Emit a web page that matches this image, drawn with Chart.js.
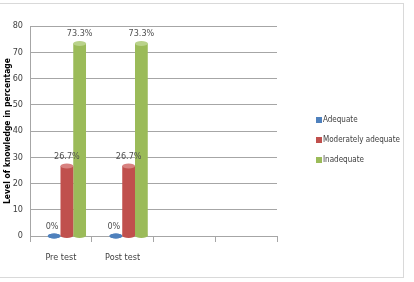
<!DOCTYPE html>
<html>
<head>
<meta charset="utf-8">
<script src="https://cdn.jsdelivr.net/npm/chart.js@4"></script>
<style>
  html, body { margin: 0; padding: 0; background: #fff; }
  #wrap { width: 414px; height: 282px; position: relative; }
</style>
</head>
<body>
<div id="wrap"><canvas id="knowledgeChart"></canvas></div>
<script>
// Knowledge level, pre test vs post test
const categories = ['Pre test', 'Post test', '', ''];
const adequate = [0, 0, null, null];
const moderatelyAdequate = [26.7, 26.7, null, null];
const inadequate = [73.3, 73.3, null, null];
const seriesNames = ['Adequate', 'Moderately adequate', 'Inadequate'];
const seriesColors = ['#4F81BD', '#C0504D', '#9BBB59'];
const capColors = ['#7FA3D0', '#D88280', '#B9D28A'];

const fontFamily = "'DejaVu Sans Condensed', 'Liberation Sans Narrow', 'Noto Sans', sans-serif";

// bars sit a bit to the right of their category, like the 3d original
const shiftPlugin = {
    id: 'shift',
    afterLayout(chart) {
        const s = chart.scales.xb;
        s.left += 6;
        s.right += 6;
        s.configure();
    }
};

// caps, value labels, frame and legend
const extrasPlugin = {
    id: 'extras',
    afterDatasetsDraw(chart) {
        const ctx = chart.ctx;
        ctx.save();
        chart.data.datasets.forEach(function(ds, i) {
            const meta = chart.getDatasetMeta(i);
            meta.data.forEach(function(bar, j) {
                const v = ds.data[j];
                if (v === null || v === undefined) return;
                const rx = bar.width / 2;
                ctx.fillStyle = seriesColors[i];
                ctx.beginPath();
                ctx.ellipse(bar.x, bar.base, rx, 2.5, 0, 0, Math.PI * 2);
                ctx.fill();
                ctx.fillStyle = v === 0 ? seriesColors[i] : capColors[i];
                ctx.beginPath();
                ctx.ellipse(bar.x, bar.y, rx, 2.5, 0, 0, Math.PI * 2);
                ctx.fill();
            });
        });
        ctx.font = '9px ' + fontFamily;
        ctx.fillStyle = '#505050';
        ctx.textAlign = 'center';
        ctx.textBaseline = 'bottom';
        chart.data.datasets.forEach(function(ds, i) {
            const meta = chart.getDatasetMeta(i);
            meta.data.forEach(function(bar, j) {
                const v = ds.data[j];
                if (v === null || v === undefined) return;
                ctx.fillText(v + '%', bar.x - (v === 0 ? 2 : 0), bar.y - 5);
            });
        });
        ctx.restore();
    },
    afterDraw(chart) {
        const ctx = chart.ctx;
        ctx.save();
        ctx.strokeStyle = '#d9d9d9';
        ctx.lineWidth = 1;
        ctx.strokeRect(-1, 3.5, 404.5, 274);
        ctx.font = '8px ' + fontFamily;
        ctx.textBaseline = 'middle';
        ctx.textAlign = 'left';
        chart.data.datasets.forEach(function(ds, i) {
            const y = 120 + i * 20;
            ctx.fillStyle = ds.backgroundColor;
            ctx.fillRect(316, y - 3, 6, 6);
            ctx.fillStyle = '#404040';
            ctx.fillText(ds.label, 323, y);
        });
        ctx.restore();
    }
};

const ctx = document.getElementById('knowledgeChart').getContext('2d');
new Chart(ctx, {
    type: 'bar',
    data: {
        labels: categories,
        datasets: [
            { label: seriesNames[0], data: adequate, backgroundColor: seriesColors[0], xAxisID: 'xb' },
            { label: seriesNames[1], data: moderatelyAdequate, backgroundColor: seriesColors[1], xAxisID: 'xb' },
            { label: seriesNames[2], data: inadequate, backgroundColor: seriesColors[2], xAxisID: 'xb' }
        ]
    },
    options: {
        responsive: true,
        maintainAspectRatio: false,
        animation: false,
        layout: { padding: { top: 26, right: 137, bottom: 8, left: 0 } },
        datasets: {
            bar: { categoryPercentage: 0.62, barPercentage: 1 }
        },
        plugins: {
            legend: { display: false },
            tooltip: { enabled: false }
        },
        scales: {
            x: {
                type: 'category',
                labels: categories,
                grid: {
                    offset: true,
                    drawOnChartArea: false,
                    drawTicks: true,
                    tickLength: 6,
                    color: '#a6a6a6'
                },
                border: { color: '#a6a6a6' },
                ticks: {
                    padding: 10,
                    color: '#404040',
                    font: { size: 9, family: fontFamily }
                },
                afterFit: function(scale) { scale.height = 38; }
            },
            xb: {
                type: 'category',
                labels: categories,
                display: false,
                offset: true
            },
            y: {
                min: 0,
                max: 80,
                ticks: {
                    stepSize: 10,
                    padding: 7,
                    color: '#404040',
                    font: { size: 9, family: fontFamily }
                },
                grid: { color: '#a6a6a6', drawTicks: false },
                border: { color: '#a6a6a6' },
                title: {
                    display: true,
                    text: 'Level of knowledge in percentage',
                    color: '#000',
                    padding: { top: 3, bottom: 0 },
                    font: { size: 8.5, weight: 'bold', family: fontFamily }
                },
                afterFit: function(scale) { scale.width = 30; }
            }
        }
    },
    plugins: [shiftPlugin, extrasPlugin]
});
</script>
</body>
</html>
